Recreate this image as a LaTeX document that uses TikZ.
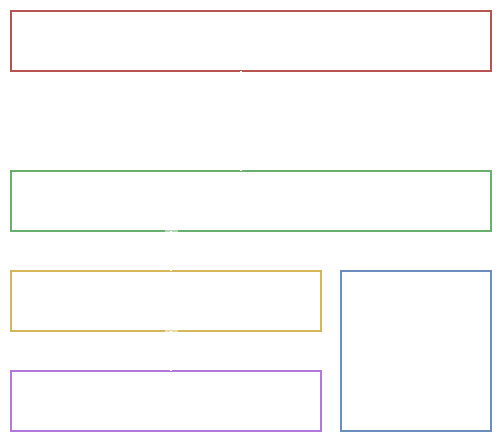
\documentclass[tikz,border=0pt]{standalone}
\usetikzlibrary{positioning}
\definecolor{cred}{RGB}{184,84,80}
\definecolor{cgreen}{RGB}{104,176,110}
\definecolor{cyellow}{RGB}{214,182,86}
\definecolor{cpurple}{RGB}{180,120,220}
\definecolor{cblue}{RGB}{108,142,191}
\begin{document}
\begin{tikzpicture}[x=1pt,y=-1pt,
  box/.style={draw=#1,line width=1.6pt,inner sep=0pt,outer sep=0pt,fill=none},
  link/.style={draw=white,line width=1.2pt}]
\useasboundingbox (0,0) rectangle (503,445);
\node[box=cred,minimum width=480pt,minimum height=60pt] (red) at (251,41) {};
\node[box=cgreen,minimum width=480pt,minimum height=60pt] (green) at (251,201) {};
\node[box=cyellow,minimum width=310pt,minimum height=60pt] (yellow) at (166,301) {};
\node[box=cpurple,minimum width=310pt,minimum height=60pt] (purple) at (166,401) {};
\node[box=cblue,minimum width=150pt,minimum height=160pt] (blue) at (416,351) {};
\draw[link] ([xshift=-10pt]red.south) -- ([xshift=-10pt]green.north);
\draw[link] ([xshift=-80pt]green.south) -- ([xshift=5pt]yellow.north);
\draw[link] ([xshift=5pt]yellow.south) -- ([xshift=5pt]purple.north);
\fill[white,opacity=0.5] ([xshift=-86pt,yshift=-1pt]green.south) rectangle ([xshift=-73pt,yshift=1pt]green.south);
\fill[white,opacity=0.5] ([xshift=-1pt,yshift=-1pt]yellow.south) rectangle ([xshift=12pt,yshift=1pt]yellow.south);
\end{tikzpicture}
\end{document}
